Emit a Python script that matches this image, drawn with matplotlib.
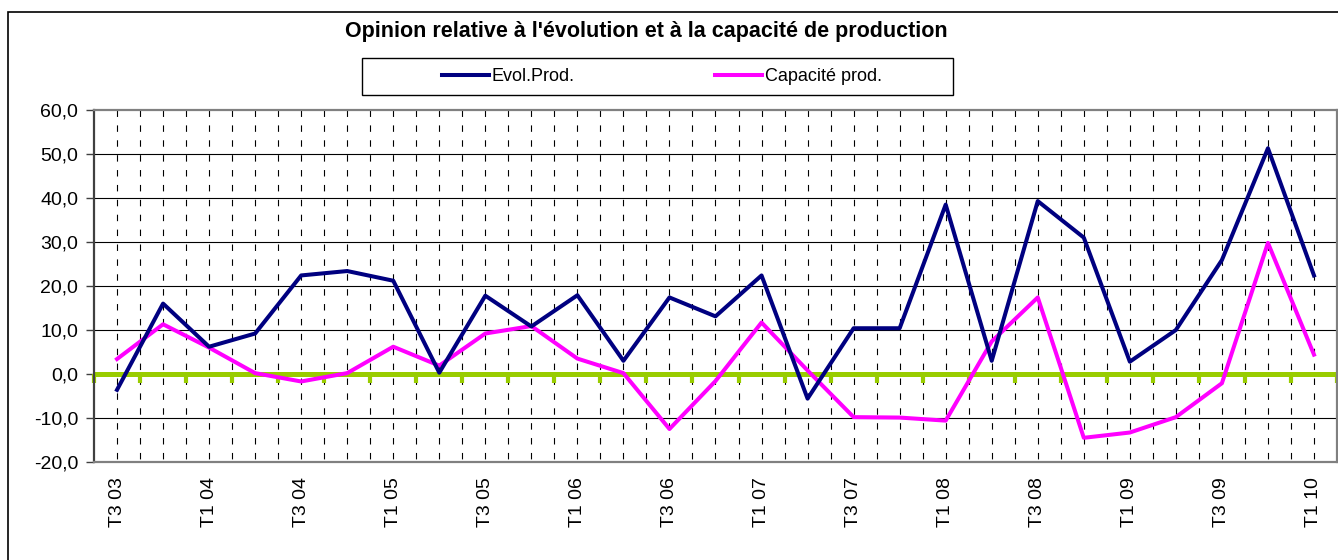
import numpy as np
import matplotlib.pyplot as plt
from matplotlib.patches import Rectangle
from matplotlib.ticker import FuncFormatter

plt.rcParams['font.family'] = ['Liberation Sans', 'DejaVu Sans']

# trimestres T3 03 .. T1 10
quarters = ['T3 03', 'T4 03', 'T1 04', 'T2 04', 'T3 04', 'T4 04', 'T1 05', 'T2 05',
            'T3 05', 'T4 05', 'T1 06', 'T2 06', 'T3 06', 'T4 06', 'T1 07', 'T2 07',
            'T3 07', 'T4 07', 'T1 08', 'T2 08', 'T3 08', 'T4 08', 'T1 09', 'T2 09',
            'T3 09', 'T4 09', 'T1 10']
evol_prod = [-3.6, 16.0, 6.2, 9.2, 22.4, 23.4, 21.2, 0.3,
             17.8, 10.8, 17.9, 3.0, 17.4, 13.1, 22.4, -5.6,
             10.4, 10.4, 38.5, 3.0, 39.3, 31.0, 2.8, 10.0,
             25.9, 51.3, 22.4]
capacite_prod = [3.4, 11.3, 6.0, 0.2, -1.7, 0.2, 6.2, 1.9,
                 9.2, 10.9, 3.5, 0.2, -12.5, -1.6, 11.7, 0.8,
                 -9.8, -9.9, -10.6, 7.4, 17.4, -14.5, -13.3, -9.8,
                 -2.1, 29.8, 4.4]

W, H = 1338, 560
fig = plt.figure(figsize=(W / 100, H / 100), dpi=100)
ax = fig.add_axes([94 / W, 1 - 462 / H, (1337 - 94) / W, (462 - 110) / H])

x = np.arange(len(quarters))
ax.set_xlim(-0.5, len(quarters) - 0.5)
ax.set_ylim(-20, 60)

# grille
for v in np.arange(0, len(quarters) - 0.5, 0.5):
    ax.plot([v, v], [60, -20], color='black', lw=0.8, ls=(0, (5.8, 7.6)), zorder=1)
for v in [-10, 10, 20, 30, 40, 50]:
    ax.axhline(v, color='black', lw=0.8, zorder=1)

# axe des abscisses a zero
ax.axhline(0, color='#99CC00', lw=3.6, zorder=2)
bounds = np.arange(-0.5, len(quarters), 1.0)
ax.vlines(bounds, 0, -2.0, color='#99CC00', lw=3.0, zorder=2, clip_on=False)

ax.plot(x, evol_prod, color='#000080', lw=2.9, label='Evol.Prod.', zorder=4)
ax.plot(x, capacite_prod, color='#FF00FF', lw=2.9, label='Capacité prod.', zorder=3)

ax.set_yticks(np.arange(-20, 61, 10))
ax.yaxis.set_major_formatter(FuncFormatter(lambda v, p: f'{v:.1f}'.replace('.', ',')))
ax.tick_params(axis='y', length=6, width=1, labelsize=14, pad=5.5, color='#404040')
ax.set_xticks(x[::2])
ax.set_xticklabels(quarters[::2], rotation=90, fontsize=14)
ax.tick_params(axis='x', length=0, pad=11)

for side in ['top', 'right', 'bottom']:
    ax.spines[side].set_color('#808080')
    ax.spines[side].set_linewidth(1.6)
ax.spines['left'].set_color('#404040')
ax.spines['left'].set_linewidth(1.6)

fig.text(646 / W, 1 - 31 / H, "Opinion relative à l'évolution et à la capacité de production",
         ha='center', va='center', fontsize=15.5, fontweight='bold')

# cadre de la legende
fig.add_artist(Rectangle((362 / W, 1 - 95 / H), (953 - 362) / W, 37 / H,
                         transform=fig.transFigure, fill=False, ec='black', lw=1))
fig.legend(loc='center', bbox_to_anchor=(662 / W, 1 - 76.5 / H), ncol=2, frameon=False,
           fontsize=13, handlelength=2.6, handletextpad=0.15, columnspacing=7.8)

# cadre exterieur
fig.add_artist(Rectangle((8 / W, -0.1), 1.2, 1.1 - 12 / H,
                         transform=fig.transFigure, fill=False, ec='black', lw=1.2))

fig.savefig('out.png', dpi=100)
